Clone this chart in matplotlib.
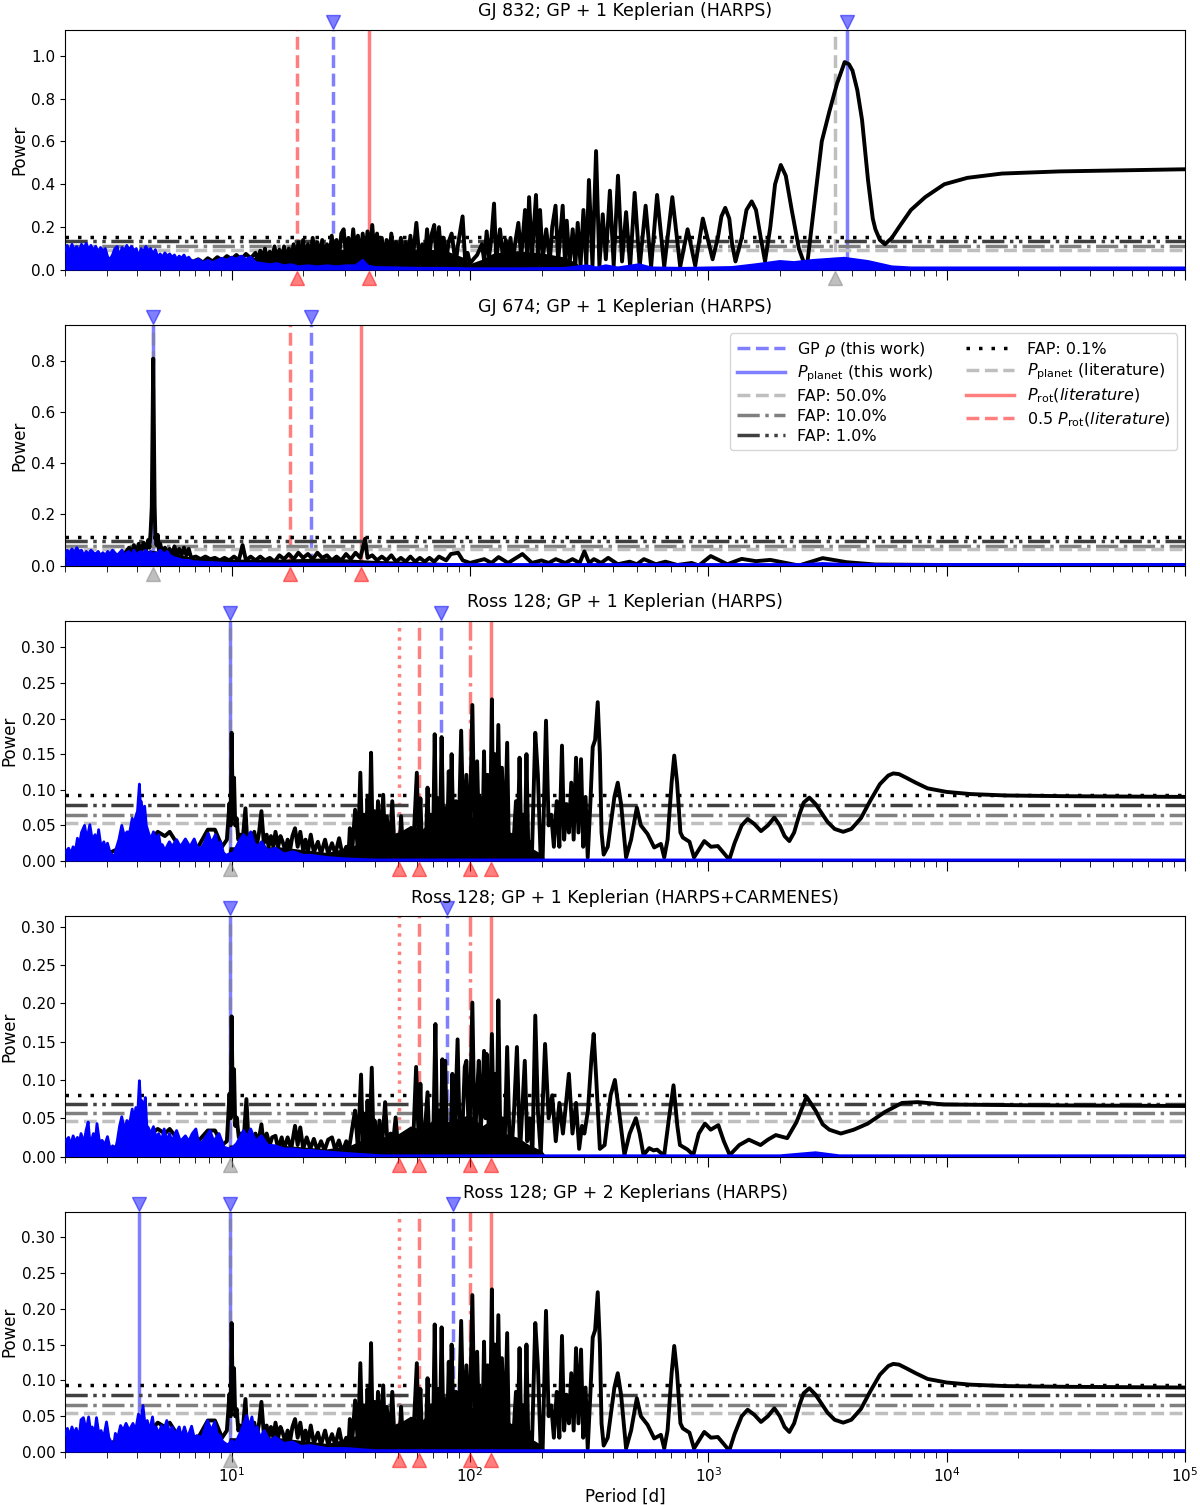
import numpy as np
import matplotlib.pyplot as plt

plt.rcParams['font.size'] = 12
plt.rcParams['xtick.labelsize'] = 11
plt.rcParams['ytick.labelsize'] = 11

titles = ['GJ 832; GP + 1 Keplerian (HARPS)',
          'GJ 674; GP + 1 Keplerian (HARPS)',
          'Ross 128; GP + 1 Keplerian (HARPS)',
          'Ross 128; GP + 1 Keplerian (HARPS+CARMENES)',
          'Ross 128; GP + 2 Keplerians (HARPS)']
ylims = [1.12, 0.94, 0.337, 0.3135, 0.335]

# FAP levels per panel: 0.1%, 1%, 10%, 50%
fap_levels = [[0.153, 0.134, 0.114, 0.094],
              [0.112, 0.095, 0.078, 0.063],
              [0.093, 0.079, 0.065, 0.053],
              [0.080, 0.069, 0.057, 0.046],
              [0.094, 0.080, 0.065, 0.054]]

# marked periods [d]
gp_rho = [26.5, 21.5, 75.5, 80.2, 85.0]
p_planet = [[3820.0], [4.69], [9.87], [9.87], [4.10, 9.87]]
p_planet_lit = [3405.0, 4.69, 9.87, 9.87, 9.87]
p_rot_lit = [37.8, 35.0, 122.0, 122.0, 122.0]
half_prot_lit = [18.8, 17.5, 61.3, 61.3, 61.3]
other_dotted = [None, None, 50.4, 50.4, 50.4]
other_dashdot = [None, None, 100.0, 100.0, 100.0]

# periodograms: (log10 period [d], power)
gj832_gls = [
    (0.301, 0.05), (0.4, 0.06), (0.5, 0.05), (0.6, 0.06), (0.7, 0.05), (0.8, 0.045), (0.84, 0.04),
    (0.86, 0.05), (0.88, 0.035), (0.90, 0.055), (0.92, 0.04), (0.94, 0.06), (0.96, 0.045), (0.98, 0.065),
    (1.0, 0.05), (1.02, 0.07), (1.04, 0.05), (1.06, 0.075), (1.08, 0.055), (1.10, 0.08), (1.11, 0.04),
    (1.12, 0.09), (1.13, 0.05), (1.14, 0.10), (1.15, 0.04), (1.16, 0.085), (1.17, 0.05), (1.18, 0.11),
    (1.19, 0.04), (1.20, 0.095), (1.21, 0.05), (1.22, 0.11), (1.23, 0.04), (1.24, 0.10), (1.25, 0.05),
    (1.26, 0.12), (1.27, 0.04), (1.28, 0.13), (1.29, 0.05), (1.30, 0.14), (1.31, 0.04), (1.32, 0.12),
    (1.33, 0.05), (1.34, 0.15), (1.35, 0.06), (1.36, 0.13), (1.37, 0.05), (1.38, 0.14), (1.39, 0.06),
    (1.40, 0.12), (1.41, 0.05), (1.42, 0.16), (1.43, 0.06), (1.44, 0.14), (1.45, 0.05), (1.46, 0.17),
    (1.47, 0.19), (1.48, 0.06), (1.49, 0.15), (1.50, 0.05), (1.51, 0.19), (1.52, 0.07), (1.53, 0.16),
    (1.54, 0.05), (1.55, 0.17), (1.56, 0.06), (1.57, 0.18), (1.58, 0.07), (1.59, 0.21), (1.60, 0.06),
    (1.61, 0.17), (1.62, 0.05), (1.63, 0.15), (1.64, 0.04), (1.65, 0.14), (1.66, 0.05), (1.67, 0.17),
    (1.68, 0.04), (1.69, 0.13), (1.70, 0.05), (1.71, 0.15), (1.72, 0.03), (1.73, 0.13), (1.74, 0.04),
    (1.75, 0.16), (1.76, 0.05), (1.775, 0.22), (1.79, 0.03), (1.80, 0.12), (1.81, 0.04), (1.82, 0.19),
    (1.83, 0.06), (1.84, 0.17), (1.85, 0.21), (1.86, 0.05), (1.87, 0.20), (1.88, 0.04), (1.89, 0.15),
    (1.90, 0.03), (1.91, 0.13), (1.923, 0.17), (1.94, 0.03), (1.95, 0.12), (1.969, 0.25), (1.98, 0.04),
    (1.99, 0.08), (2.0, 0.03), (2.014, 0.05), (2.03, 0.07), (2.05, 0.12), (2.06, 0.04), (2.07, 0.18),
    (2.08, 0.06), (2.09, 0.15), (2.101, 0.31), (2.11, 0.05), (2.126, 0.19), (2.14, 0.04), (2.15, 0.14),
    (2.16, 0.05), (2.17, 0.15), (2.18, 0.04), (2.19, 0.13), (2.203, 0.22), (2.215, 0.06), (2.231, 0.28),
    (2.24, 0.05), (2.248, 0.34), (2.26, 0.06), (2.277, 0.35), (2.285, 0.07), (2.294, 0.28), (2.305, 0.05),
    (2.32, 0.19), (2.335, 0.04), (2.345, 0.20), (2.359, 0.30), (2.37, 0.04), (2.389, 0.30), (2.398, 0.05),
    (2.406, 0.23), (2.418, 0.03), (2.431, 0.19), (2.442, 0.02), (2.452, 0.22), (2.464, 0.02), (2.476, 0.28),
    (2.488, 0.02), (2.499, 0.42), (2.514, 0.02), (2.529, 0.555), (2.543, 0.02), (2.557, 0.26), (2.57, 0.05),
    (2.587, 0.37), (2.603, 0.02), (2.621, 0.44), (2.638, 0.04), (2.655, 0.27), (2.672, 0.015), (2.691, 0.36),
    (2.712, 0.015), (2.737, 0.30), (2.76, 0.015), (2.785, 0.35), (2.815, 0.015), (2.849, 0.34), (2.882, 0.015),
    (2.913, 0.19), (2.945, 0.02), (2.977, 0.24), (3.018, 0.05), (3.04, 0.15), (3.055, 0.25), (3.071, 0.29),
    (3.088, 0.24), (3.10, 0.12), (3.114, 0.04), (3.14, 0.15), (3.16, 0.28), (3.182, 0.32), (3.20, 0.28),
    (3.22, 0.15), (3.238, 0.04), (3.26, 0.20), (3.28, 0.40), (3.304, 0.49), (3.325, 0.44), (3.35, 0.28),
    (3.38, 0.10), (3.412, 0.0), (3.444, 0.30), (3.476, 0.60), (3.508, 0.74), (3.54, 0.87), (3.572, 0.97),
    (3.59, 0.96), (3.605, 0.93), (3.625, 0.84), (3.645, 0.70), (3.67, 0.42), (3.69, 0.24), (3.701, 0.19),
    (3.72, 0.14), (3.741, 0.12), (3.77, 0.15), (3.80, 0.20), (3.85, 0.28), (3.91, 0.34), (3.99, 0.40),
    (4.087, 0.43), (4.232, 0.45), (4.473, 0.46), (5.0, 0.47)]

# solid (unresolved) part of the dense forest: (log10 period [d], top of black band)
gj832_band = [(0.84, 0.0), (0.85, 0.04), (1.0, 0.05), (1.1, 0.06), (1.2, 0.07), (1.3, 0.08), (1.4, 0.09),
              (1.5, 0.10), (1.6, 0.10), (1.7, 0.09), (1.8, 0.10), (1.9, 0.09), (1.97, 0.06), (2.0, 0.03),
              (2.05, 0.05), (2.1, 0.08), (2.2, 0.09), (2.3, 0.08), (2.4, 0.06), (2.45, 0.03), (2.47, 0.0)]

gj832_resid = [
    (0.301, 0.09), (0.31, 0.115), (0.32, 0.08), (0.33, 0.12), (0.34, 0.09), (0.35, 0.11), (0.36, 0.085),
    (0.37, 0.12), (0.38, 0.10), (0.39, 0.125), (0.40, 0.095), (0.41, 0.115), (0.42, 0.09), (0.43, 0.11),
    (0.44, 0.085), (0.45, 0.105), (0.46, 0.09), (0.47, 0.10), (0.48, 0.06), (0.49, 0.05), (0.50, 0.07),
    (0.51, 0.10), (0.52, 0.11), (0.53, 0.06), (0.54, 0.105), (0.55, 0.09), (0.56, 0.115), (0.57, 0.095),
    (0.58, 0.11), (0.59, 0.09), (0.60, 0.10), (0.61, 0.06), (0.62, 0.10), (0.63, 0.085), (0.64, 0.11),
    (0.65, 0.09), (0.66, 0.10), (0.67, 0.075), (0.68, 0.095), (0.69, 0.06), (0.70, 0.075), (0.71, 0.06),
    (0.72, 0.08), (0.73, 0.065), (0.74, 0.075), (0.75, 0.06), (0.76, 0.07), (0.77, 0.05), (0.78, 0.065),
    (0.79, 0.055), (0.80, 0.07), (0.81, 0.05), (0.82, 0.06), (0.83, 0.045), (0.84, 0.04), (0.86, 0.05),
    (0.88, 0.035), (0.90, 0.045), (0.92, 0.035), (0.94, 0.045), (0.96, 0.055), (0.98, 0.045), (1.00, 0.06),
    (1.02, 0.05), (1.04, 0.065), (1.06, 0.05), (1.08, 0.06), (1.10, 0.035), (1.13, 0.03), (1.16, 0.025),
    (1.19, 0.03), (1.22, 0.02), (1.25, 0.025), (1.28, 0.015), (1.32, 0.02), (1.36, 0.015), (1.40, 0.02),
    (1.44, 0.015), (1.48, 0.02), (1.52, 0.02), (1.55, 0.045), (1.57, 0.02), (1.60, 0.012), (1.70, 0.01),
    (1.80, 0.008), (1.90, 0.008), (2.0, 0.006), (2.2, 0.006), (2.4, 0.008), (2.49, 0.02), (2.53, 0.01),
    (2.57, 0.02), (2.62, 0.01), (2.71, 0.025), (2.76, 0.01), (2.9, 0.008), (3.0, 0.01), (3.1, 0.012),
    (3.2, 0.025), (3.3, 0.04), (3.36, 0.035), (3.44, 0.045), (3.57, 0.055), (3.67, 0.04), (3.77, 0.015),
    (3.85, 0.01), (4.5, 0.01), (5.0, 0.01)]

gj674_gls = [
    (0.301, 0.035), (0.35, 0.04), (0.40, 0.035), (0.45, 0.04), (0.50, 0.035), (0.55, 0.045), (0.57, 0.07),
    (0.58, 0.04), (0.59, 0.08), (0.60, 0.05), (0.61, 0.085), (0.62, 0.05), (0.63, 0.09), (0.64, 0.06),
    (0.65, 0.10), (0.655, 0.07), (0.66, 0.13), (0.665, 0.23), (0.669, 0.60), (0.671, 0.81), (0.673, 0.60),
    (0.677, 0.23), (0.68, 0.12), (0.685, 0.08), (0.69, 0.12), (0.695, 0.06), (0.70, 0.085), (0.71, 0.05),
    (0.72, 0.07), (0.73, 0.05), (0.74, 0.065), (0.75, 0.04), (0.76, 0.075), (0.77, 0.04), (0.78, 0.065),
    (0.79, 0.04), (0.80, 0.07), (0.81, 0.04), (0.82, 0.065), (0.83, 0.03), (0.85, 0.035), (0.87, 0.025),
    (0.89, 0.035), (0.91, 0.025), (0.93, 0.03), (0.95, 0.02), (0.97, 0.03), (0.99, 0.02), (1.01, 0.035),
    (1.03, 0.02), (1.046, 0.08), (1.06, 0.02), (1.08, 0.035), (1.10, 0.02), (1.12, 0.035), (1.14, 0.02),
    (1.16, 0.03), (1.18, 0.015), (1.20, 0.04), (1.22, 0.025), (1.24, 0.045), (1.26, 0.025), (1.28, 0.05),
    (1.30, 0.03), (1.32, 0.045), (1.34, 0.025), (1.36, 0.05), (1.38, 0.03), (1.40, 0.04), (1.42, 0.02),
    (1.44, 0.035), (1.46, 0.02), (1.48, 0.045), (1.50, 0.025), (1.52, 0.05), (1.54, 0.03), (1.56, 0.105),
    (1.57, 0.03), (1.59, 0.04), (1.61, 0.02), (1.63, 0.035), (1.65, 0.02), (1.67, 0.04), (1.69, 0.015),
    (1.71, 0.03), (1.73, 0.015), (1.75, 0.035), (1.77, 0.015), (1.79, 0.03), (1.81, 0.015), (1.83, 0.03),
    (1.85, 0.015), (1.87, 0.035), (1.90, 0.02), (1.92, 0.045), (1.95, 0.05), (1.97, 0.02), (2.0, 0.01),
    (2.06, 0.025), (2.09, 0.01), (2.12, 0.033), (2.16, 0.01), (2.22, 0.045), (2.26, 0.01), (2.30, 0.02),
    (2.33, 0.01), (2.36, 0.025), (2.40, 0.01), (2.43, 0.025), (2.46, 0.01), (2.48, 0.055), (2.50, 0.01),
    (2.52, 0.025), (2.55, 0.01), (2.58, 0.03), (2.62, 0.005), (2.67, 0.015), (2.70, 0.005), (2.73, 0.025),
    (2.78, 0.005), (2.82, 0.015), (2.87, 0.002), (2.93, 0.01), (2.96, 0.0), (3.01, 0.037), (3.08, 0.005),
    (3.14, 0.026), (3.20, 0.017), (3.26, 0.022), (3.38, 0.0), (3.48, 0.029), (3.58, 0.013), (3.70, 0.004),
    (4.0, 0.002), (5.0, 0.002)]

gj674_band = [(0.55, 0.0), (0.56, 0.05), (0.66, 0.06), (0.75, 0.05), (0.84, 0.03), (1.0, 0.025),
              (1.2, 0.025), (1.4, 0.03), (1.6, 0.02), (1.8, 0.015), (1.95, 0.01), (2.0, 0.0)]

gj674_resid = [
    (0.301, 0.04), (0.31, 0.06), (0.32, 0.05), (0.33, 0.065), (0.34, 0.05), (0.35, 0.07), (0.36, 0.055),
    (0.37, 0.06), (0.38, 0.04), (0.39, 0.055), (0.40, 0.045), (0.41, 0.06), (0.42, 0.05), (0.43, 0.045),
    (0.44, 0.055), (0.45, 0.04), (0.46, 0.05), (0.47, 0.04), (0.48, 0.055), (0.49, 0.045), (0.50, 0.06),
    (0.51, 0.05), (0.52, 0.04), (0.53, 0.05), (0.54, 0.06), (0.55, 0.04), (0.56, 0.05), (0.57, 0.055),
    (0.58, 0.035), (0.59, 0.06), (0.60, 0.04), (0.61, 0.05), (0.62, 0.055), (0.63, 0.045), (0.64, 0.06),
    (0.65, 0.04), (0.66, 0.055), (0.67, 0.04), (0.68, 0.05), (0.69, 0.045), (0.70, 0.06), (0.71, 0.05),
    (0.72, 0.045), (0.73, 0.055), (0.74, 0.04), (0.76, 0.03), (0.78, 0.025), (0.80, 0.02), (0.82, 0.02),
    (0.84, 0.015), (0.9, 0.012), (1.0, 0.008), (1.2, 0.006), (1.5, 0.005), (2.0, 0.004), (3.4, 0.004),
    (3.48, 0.008), (3.58, 0.004), (5.0, 0.004)]

ross_harps_gls = [
    (0.301, 0.01), (0.36, 0.01), (0.44, 0.01), (0.48, 0.01), (0.51, 0.015), (0.54, 0.015), (0.58, 0.03),
    (0.62, 0.03), (0.66, 0.03), (0.69, 0.041), (0.72, 0.035), (0.74, 0.041), (0.78, 0.02), (0.82, 0.02),
    (0.86, 0.02), (0.90, 0.044), (0.93, 0.044), (0.96, 0.02), (0.98, 0.03),
    (0.991, 0.081), (0.996, 0.05), (1.0, 0.18), (1.005, 0.06), (1.010, 0.117), (1.015, 0.05), (1.021, 0.06),
    (1.028, 0.03), (1.036, 0.037), (1.045, 0.025), (1.058, 0.074), (1.065, 0.03), (1.073, 0.037), (1.08, 0.02),
    (1.088, 0.035), (1.095, 0.041), (1.105, 0.02), (1.115, 0.04), (1.125, 0.07), (1.135, 0.025), (1.147, 0.037),
    (1.155, 0.02), (1.165, 0.035), (1.175, 0.02), (1.184, 0.041), (1.195, 0.02), (1.205, 0.035), (1.214, 0.027),
    (1.225, 0.015), (1.235, 0.03), (1.245, 0.015), (1.255, 0.035), (1.266, 0.046), (1.277, 0.02), (1.288, 0.041),
    (1.30, 0.015), (1.31, 0.03), (1.32, 0.012), (1.332, 0.037), (1.345, 0.012), (1.362, 0.027), (1.375, 0.01),
    (1.392, 0.03), (1.405, 0.01), (1.421, 0.025), (1.435, 0.01), (1.451, 0.032), (1.465, 0.008), (1.481, 0.02),
    (1.49, 0.006), (1.496, 0.046), (1.505, 0.01), (1.518, 0.072), (1.53, 0.01), (1.540, 0.124), (1.548, 0.02),
    (1.555, 0.065), (1.562, 0.01), (1.570, 0.088), (1.578, 0.02), (1.585, 0.152), (1.592, 0.02), (1.599, 0.07),
    (1.607, 0.01), (1.614, 0.084), (1.625, 0.02), (1.636, 0.093), (1.644, 0.015), (1.651, 0.063), (1.662, 0.01),
    (1.674, 0.084), (1.685, 0.005), (1.696, 0.037), (1.703, 0.01), (1.711, 0.063), (1.72, 0.005), (1.726, 0.013),
    (1.737, 0.03), (1.748, 0.041), (1.76, 0.005), (1.777, 0.124), (1.785, 0.02), (1.792, 0.088), (1.80, 0.005),
    (1.807, 0.037), (1.815, 0.02), (1.822, 0.103), (1.83, 0.01), (1.837, 0.065), (1.845, 0.02), (1.852, 0.178),
    (1.859, 0.03), (1.866, 0.088), (1.873, 0.01), (1.881, 0.174), (1.889, 0.02), (1.896, 0.074), (1.903, 0.01),
    (1.911, 0.126), (1.917, 0.03), (1.923, 0.150), (1.932, 0.01), (1.941, 0.084), (1.952, 0.02), (1.963, 0.183),
    (1.974, 0.02), (1.985, 0.121), (1.997, 0.01), (2.010, 0.219), (2.02, 0.01), (2.030, 0.140), (2.038, 0.03),
    (2.045, 0.088), (2.052, 0.02), (2.059, 0.154), (2.066, 0.01), (2.074, 0.121), (2.083, 0.005), (2.092, 0.227),
    (2.098, 0.02), (2.104, 0.150), (2.11, 0.01), (2.119, 0.191), (2.127, 0.02), (2.134, 0.131), (2.145, 0.01),
    (2.156, 0.166), (2.163, 0.02), (2.171, 0.037), (2.18, 0.01), (2.193, 0.084), (2.20, 0.02), (2.208, 0.145),
    (2.215, 0.03), (2.223, 0.065), (2.23, 0.01), (2.237, 0.150), (2.245, 0.01), (2.252, 0.027), (2.26, 0.01),
    (2.274, 0.180), (2.285, 0.12), (2.297, 0.0), (2.305, 0.005), (2.319, 0.197), (2.33, 0.05), (2.341, 0.065),
    (2.352, 0.02), (2.364, 0.084), (2.375, 0.02), (2.386, 0.162), (2.395, 0.03), (2.405, 0.08), (2.415, 0.04),
    (2.425, 0.11), (2.435, 0.03), (2.445, 0.145), (2.455, 0.04), (2.466, 0.143), (2.475, 0.02), (2.485, 0.09),
    (2.494, 0.005), (2.505, 0.08), (2.515, 0.16), (2.525, 0.17), (2.536, 0.223), (2.545, 0.15), (2.552, 0.04),
    (2.561, 0.009), (2.578, 0.02), (2.606, 0.09), (2.62, 0.11), (2.634, 0.08), (2.655, 0.005), (2.676, 0.03),
    (2.70, 0.075), (2.717, 0.05), (2.745, 0.038), (2.773, 0.019), (2.801, 0.024), (2.815, 0.005), (2.829, 0.03),
    (2.846, 0.11), (2.857, 0.148), (2.869, 0.11), (2.883, 0.04), (2.893, 0.033), (2.921, 0.027), (2.94, 0.005),
    (2.983, 0.028), (3.011, 0.02), (3.04, 0.021), (3.088, 0.002), (3.11, 0.025), (3.14, 0.05), (3.165, 0.059),
    (3.193, 0.052), (3.221, 0.042), (3.25, 0.05), (3.277, 0.061), (3.30, 0.05), (3.32, 0.035), (3.34, 0.028),
    (3.36, 0.04), (3.382, 0.065), (3.40, 0.082), (3.424, 0.089), (3.45, 0.08), (3.47, 0.07), (3.50, 0.055),
    (3.53, 0.045), (3.566, 0.041), (3.60, 0.045), (3.64, 0.06), (3.68, 0.085), (3.72, 0.108), (3.755, 0.12),
    (3.776, 0.123), (3.80, 0.122), (3.83, 0.117), (3.87, 0.11), (3.92, 0.102), (4.0, 0.097), (4.1, 0.094),
    (4.25, 0.092), (4.5, 0.091), (5.0, 0.09)]

ross_harps_band = [(0.98, 0.0), (0.99, 0.02), (1.2, 0.02), (1.4, 0.012), (1.5, 0.02), (1.6, 0.035),
                   (1.65, 0.03), (1.7, 0.04), (1.75, 0.05), (1.8, 0.045), (1.85, 0.06), (1.9, 0.055),
                   (2.0, 0.065), (2.05, 0.05), (2.1, 0.06), (2.15, 0.04), (2.2, 0.035), (2.25, 0.02),
                   (2.3, 0.01), (2.32, 0.0)]

ross_harps_resid = [
    (0.301, 0.012), (0.316, 0.018), (0.325, 0.01), (0.335, 0.02), (0.345, 0.015), (0.353, 0.032), (0.36, 0.02),
    (0.37, 0.04), (0.383, 0.05), (0.393, 0.03), (0.405, 0.051), (0.415, 0.03), (0.427, 0.037), (0.435, 0.025),
    (0.442, 0.044), (0.452, 0.02), (0.464, 0.027), (0.472, 0.015), (0.479, 0.025), (0.49, 0.012), (0.501, 0.008),
    (0.508, 0.005), (0.516, 0.018), (0.527, 0.03), (0.539, 0.05), (0.55, 0.035), (0.561, 0.041), (0.572, 0.04),
    (0.583, 0.06), (0.59, 0.05), (0.598, 0.063), (0.605, 0.07), (0.613, 0.108), (0.617, 0.08), (0.620, 0.084),
    (0.627, 0.07), (0.635, 0.077), (0.642, 0.05), (0.65, 0.041), (0.66, 0.03), (0.672, 0.041), (0.683, 0.03),
    (0.694, 0.037), (0.702, 0.02), (0.709, 0.023), (0.72, 0.015), (0.739, 0.027), (0.75, 0.02), (0.769, 0.03),
    (0.785, 0.02), (0.806, 0.031), (0.825, 0.02), (0.843, 0.031), (0.855, 0.02), (0.872, 0.018), (0.885, 0.025),
    (0.902, 0.039), (0.915, 0.025), (0.932, 0.037), (0.945, 0.02), (0.954, 0.027), (0.965, 0.012), (0.976, 0.008),
    (0.99, 0.01), (1.006, 0.011), (1.02, 0.02), (1.035, 0.03), (1.05, 0.037), (1.065, 0.03), (1.08, 0.041),
    (1.095, 0.025), (1.11, 0.02), (1.125, 0.027), (1.15, 0.015), (1.184, 0.018), (1.22, 0.01), (1.258, 0.013),
    (1.30, 0.008), (1.332, 0.008), (1.40, 0.005), (1.481, 0.003), (1.6, 0.0015), (5.0, 0.0015)]

ross_carm_gls = [
    (0.301, 0.01), (0.36, 0.01), (0.44, 0.01), (0.48, 0.01), (0.51, 0.012), (0.54, 0.015), (0.58, 0.03),
    (0.62, 0.03), (0.66, 0.03), (0.69, 0.036), (0.72, 0.03), (0.74, 0.036), (0.78, 0.02), (0.82, 0.02),
    (0.86, 0.02), (0.90, 0.034), (0.93, 0.034), (0.96, 0.015), (0.98, 0.02),
    (0.991, 0.082), (0.996, 0.05), (1.0, 0.183), (1.005, 0.06), (1.01, 0.114), (1.015, 0.04), (1.021, 0.051),
    (1.03, 0.025), (1.04, 0.03), (1.05, 0.02), (1.062, 0.075), (1.07, 0.025), (1.08, 0.03), (1.09, 0.015),
    (1.10, 0.03), (1.11, 0.015), (1.125, 0.042), (1.135, 0.015), (1.147, 0.03), (1.16, 0.015), (1.17, 0.025),
    (1.184, 0.027), (1.195, 0.01), (1.21, 0.025), (1.22, 0.01), (1.235, 0.025), (1.25, 0.01), (1.266, 0.04),
    (1.277, 0.015), (1.288, 0.038), (1.30, 0.01), (1.315, 0.025), (1.33, 0.01), (1.345, 0.023), (1.36, 0.008),
    (1.375, 0.02), (1.39, 0.008), (1.405, 0.022), (1.421, 0.025), (1.435, 0.008), (1.45, 0.021), (1.465, 0.006),
    (1.481, 0.02), (1.49, 0.005), (1.51, 0.045), (1.518, 0.06), (1.53, 0.01), (1.543, 0.107), (1.55, 0.02),
    (1.555, 0.056), (1.562, 0.01), (1.570, 0.073), (1.578, 0.02), (1.588, 0.116), (1.595, 0.02), (1.60, 0.047),
    (1.61, 0.01), (1.62, 0.047), (1.63, 0.01), (1.644, 0.071), (1.655, 0.01), (1.667, 0.03), (1.675, 0.01),
    (1.688, 0.051), (1.70, 0.005), (1.711, 0.012), (1.726, 0.003), (1.748, 0.034), (1.76, 0.005), (1.774, 0.117),
    (1.785, 0.02), (1.792, 0.095), (1.80, 0.005), (1.81, 0.03), (1.822, 0.084), (1.83, 0.01), (1.837, 0.03),
    (1.845, 0.01), (1.855, 0.173), (1.862, 0.03), (1.87, 0.06), (1.877, 0.01), (1.884, 0.127), (1.89, 0.03),
    (1.896, 0.125), (1.903, 0.02), (1.911, 0.03), (1.918, 0.01), (1.926, 0.108), (1.935, 0.02), (1.948, 0.153),
    (1.958, 0.01), (1.97, 0.05), (1.978, 0.117), (1.985, 0.125), (1.997, 0.01), (2.010, 0.201), (2.02, 0.01),
    (2.028, 0.07), (2.037, 0.125), (2.045, 0.03), (2.059, 0.138), (2.065, 0.05), (2.07, 0.134), (2.08, 0.02),
    (2.092, 0.16), (2.10, 0.03), (2.105, 0.108), (2.112, 0.02), (2.119, 0.204), (2.127, 0.03), (2.134, 0.05),
    (2.145, 0.01), (2.156, 0.143), (2.165, 0.03), (2.175, 0.01), (2.185, 0.06), (2.197, 0.143), (2.21, 0.005),
    (2.23, 0.125), (2.24, 0.02), (2.25, 0.05), (2.262, 0.005), (2.274, 0.184), (2.285, 0.06), (2.297, 0.003),
    (2.315, 0.147), (2.33, 0.05), (2.345, 0.08), (2.36, 0.02), (2.375, 0.07), (2.39, 0.03), (2.40, 0.06),
    (2.415, 0.108), (2.43, 0.03), (2.445, 0.07), (2.458, 0.01), (2.47, 0.04), (2.48, 0.03), (2.495, 0.06),
    (2.51, 0.13), (2.519, 0.16), (2.53, 0.10), (2.545, 0.01), (2.565, 0.015), (2.59, 0.08), (2.608, 0.10),
    (2.625, 0.06), (2.648, 0.002), (2.67, 0.03), (2.696, 0.05), (2.712, 0.03), (2.728, 0.002), (2.752, 0.011),
    (2.77, 0.008), (2.785, 0.009), (2.80, 0.005), (2.815, 0.002), (2.835, 0.05), (2.854, 0.093), (2.87, 0.04),
    (2.881, 0.015), (2.913, 0.009), (2.937, 0.002), (2.96, 0.03), (2.986, 0.043), (3.01, 0.035), (3.042, 0.041),
    (3.065, 0.02), (3.09, 0.002), (3.13, 0.015), (3.17, 0.022), (3.219, 0.015), (3.25, 0.022), (3.283, 0.028),
    (3.331, 0.024), (3.37, 0.045), (3.412, 0.078), (3.45, 0.06), (3.48, 0.042), (3.508, 0.035), (3.556, 0.03),
    (3.61, 0.035), (3.669, 0.043), (3.74, 0.058), (3.813, 0.07), (3.878, 0.071), (3.99, 0.068), (4.31, 0.067),
    (5.0, 0.066)]

ross_carm_band = [(0.98, 0.0), (0.99, 0.015), (1.2, 0.015), (1.4, 0.01), (1.5, 0.015), (1.6, 0.03),
                  (1.65, 0.025), (1.7, 0.03), (1.75, 0.04), (1.8, 0.035), (1.85, 0.05), (1.9, 0.045),
                  (2.0, 0.055), (2.05, 0.04), (2.1, 0.05), (2.15, 0.03), (2.2, 0.025), (2.25, 0.015),
                  (2.3, 0.008), (2.32, 0.0)]

ross_carm_resid = [
    (0.301, 0.02), (0.316, 0.025), (0.325, 0.015), (0.335, 0.027), (0.345, 0.018), (0.353, 0.025), (0.36, 0.015),
    (0.368, 0.03), (0.38, 0.018), (0.39, 0.035), (0.398, 0.045), (0.405, 0.02), (0.412, 0.021), (0.42, 0.03),
    (0.428, 0.02), (0.435, 0.043), (0.445, 0.02), (0.457, 0.021), (0.468, 0.015), (0.479, 0.026), (0.49, 0.01),
    (0.501, 0.014), (0.51, 0.006), (0.52, 0.02), (0.53, 0.04), (0.539, 0.052), (0.55, 0.035), (0.561, 0.047),
    (0.57, 0.04), (0.583, 0.062), (0.59, 0.045), (0.598, 0.064), (0.605, 0.05), (0.613, 0.099), (0.618, 0.07),
    (0.623, 0.073), (0.63, 0.06), (0.638, 0.077), (0.644, 0.04), (0.65, 0.038), (0.66, 0.03), (0.672, 0.039),
    (0.683, 0.025), (0.694, 0.03), (0.705, 0.02), (0.717, 0.036), (0.728, 0.02), (0.739, 0.03), (0.75, 0.02),
    (0.769, 0.034), (0.785, 0.02), (0.806, 0.027), (0.82, 0.02), (0.835, 0.03), (0.85, 0.036), (0.86, 0.02),
    (0.872, 0.017), (0.89, 0.025), (0.909, 0.034), (0.925, 0.02), (0.947, 0.03), (0.969, 0.012), (0.991, 0.01),
    (1.005, 0.012), (1.021, 0.017), (1.035, 0.025), (1.050, 0.034), (1.065, 0.025), (1.080, 0.036), (1.10, 0.02),
    (1.125, 0.027), (1.15, 0.015), (1.184, 0.014), (1.22, 0.01), (1.258, 0.01), (1.30, 0.008), (1.332, 0.008),
    (1.40, 0.006), (1.481, 0.004), (1.629, 0.001), (2.0, 0.001), (3.3, 0.001), (3.45, 0.005), (3.55, 0.001),
    (5.0, 0.001)]

ross_2k_resid = [
    (0.301, 0.025), (0.311, 0.033), (0.32, 0.022), (0.33, 0.035), (0.34, 0.025), (0.348, 0.033), (0.36, 0.02),
    (0.368, 0.045), (0.378, 0.048), (0.39, 0.03), (0.400, 0.049), (0.408, 0.03), (0.415, 0.035), (0.425, 0.025),
    (0.433, 0.048), (0.443, 0.025), (0.452, 0.030), (0.463, 0.02), (0.475, 0.042), (0.485, 0.02), (0.497, 0.012),
    (0.505, 0.008), (0.512, 0.026), (0.522, 0.02), (0.534, 0.037), (0.545, 0.03), (0.557, 0.040), (0.57, 0.03),
    (0.586, 0.040), (0.597, 0.03), (0.609, 0.053), (0.618, 0.04), (0.628, 0.065), (0.636, 0.04), (0.646, 0.044),
    (0.656, 0.03), (0.668, 0.049), (0.675, 0.03), (0.683, 0.035), (0.695, 0.025), (0.705, 0.037), (0.715, 0.03),
    (0.728, 0.044), (0.74, 0.025), (0.750, 0.035), (0.765, 0.025), (0.780, 0.035), (0.79, 0.02), (0.802, 0.035),
    (0.815, 0.02), (0.832, 0.036), (0.843, 0.02), (0.854, 0.023), (0.875, 0.02), (0.899, 0.044), (0.915, 0.03),
    (0.929, 0.042), (0.94, 0.025), (0.951, 0.023), (0.962, 0.015), (0.973, 0.012), (0.985, 0.01), (1.0, 0.016),
    (1.012, 0.012), (1.025, 0.019), (1.04, 0.03), (1.063, 0.051), (1.075, 0.035), (1.085, 0.049), (1.095, 0.03),
    (1.107, 0.035), (1.12, 0.02), (1.137, 0.030), (1.16, 0.015), (1.182, 0.021), (1.22, 0.012), (1.256, 0.014),
    (1.29, 0.008), (1.330, 0.009), (1.40, 0.005), (1.479, 0.005), (1.6, 0.002), (5.0, 0.002)]

gls_curves = [gj832_gls, gj674_gls, ross_harps_gls, ross_carm_gls, ross_harps_gls]
band_curves = [gj832_band, gj674_band, ross_harps_band, ross_carm_band, ross_harps_band]
resid_curves = [gj832_resid, gj674_resid, ross_harps_resid, ross_carm_resid, ross_2k_resid]

fap_styles = [('FAP: 0.1%', 'black', (0, (1, 2.6))),
              ('FAP: 1.0%', '#404040', (0, (6.4, 1.6, 1, 1.6, 1, 1.6))),
              ('FAP: 10.0%', '#808080', '-.'),
              ('FAP: 50.0%', '#bfbfbf', '--')]

fig, axes = plt.subplots(5, 1, figsize=(12, 15.05), sharex=True)
fig.subplots_adjust(left=0.0542, right=0.9875, top=0.9801, bottom=0.0352, hspace=0.231)

for i, ax in enumerate(axes):
    xb = ax.get_xaxis_transform()
    lw = 2.5
    h = {}
    h['gp'] = ax.axvline(gp_rho[i], color='blue', alpha=0.5, ls='--', lw=lw, zorder=1)
    ax.plot([gp_rho[i]], [1.035], 'v', color='blue', alpha=0.5, ms=10, transform=xb, clip_on=False)
    for p in p_planet[i]:
        h['pl'] = ax.axvline(p, color='blue', alpha=0.5, ls='-', lw=lw, zorder=1)
        ax.plot([p], [1.035], 'v', color='blue', alpha=0.5, ms=10, transform=xb, clip_on=False)
    h['pl_lit'] = ax.axvline(p_planet_lit[i], color='gray', alpha=0.5, ls='--', lw=lw, zorder=1)
    ax.plot([p_planet_lit[i]], [-0.035], '^', color='gray', alpha=0.5, ms=10, transform=xb, clip_on=False)
    h['prot'] = ax.axvline(p_rot_lit[i], color='red', alpha=0.5, ls='-', lw=lw, zorder=1)
    h['half'] = ax.axvline(half_prot_lit[i], color='red', alpha=0.5, ls='--', lw=lw, zorder=1)
    red_marks = [p_rot_lit[i], half_prot_lit[i]]
    if other_dotted[i]:
        ax.axvline(other_dotted[i], color='red', alpha=0.5, ls=':', lw=lw, zorder=1)
        ax.axvline(other_dashdot[i], color='red', alpha=0.5, ls='-.', lw=lw, zorder=1)
        red_marks += [other_dotted[i], other_dashdot[i]]
    for p in red_marks:
        ax.plot([p], [-0.035], '^', color='red', alpha=0.5, ms=10, transform=xb, clip_on=False)

    for (lab, col, ls), lev in zip(fap_styles, fap_levels[i]):
        h[lab] = ax.axhline(lev, color=col, ls=ls, lw=lw, zorder=2)

    b = np.array(band_curves[i])
    ax.fill_between(10 ** b[:, 0], 0, b[:, 1], color='black', lw=0, zorder=3)
    g = np.array(gls_curves[i])
    ax.plot(10 ** g[:, 0], g[:, 1], color='black', lw=2.8, zorder=3)
    r = np.array(resid_curves[i])
    ax.fill_between(10 ** r[:, 0], 0, r[:, 1], color='blue', lw=0, zorder=4)
    ax.plot(10 ** r[:, 0], r[:, 1], color='blue', lw=2, zorder=4)

    ax.set_xscale('log')
    ax.set_xlim(2, 1e5)
    ax.set_ylim(0, ylims[i])
    ax.set_ylabel('Power', labelpad=2)
    ax.set_title(titles[i], fontsize=12.5, pad=10)
    ax.tick_params(axis='x', which='major', length=7, labelbottom=(i == 4))
    ax.tick_params(axis='x', which='minor', length=4)
    ax.tick_params(axis='y', length=3.5)

    if i == 1:
        handles = [h['gp'], h['pl'], h['FAP: 50.0%'], h['FAP: 10.0%'], h['FAP: 1.0%'],
                   h['FAP: 0.1%'], h['pl_lit'], h['prot'], h['half']]
        labels = [r'GP $\rho$ (this work)', r'$P_{\rm planet}$ (this work)', 'FAP: 50.0%',
                  'FAP: 10.0%', 'FAP: 1.0%', 'FAP: 0.1%', r'$P_{\rm planet}$ (literature)',
                  r'$P_{\rm rot}(literature)$', r'0.5 $P_{\rm rot}(literature)$']
        ax.legend(handles, labels, loc='upper right', ncol=2, handlelength=3,
                  fontsize=11.5, labelspacing=0.3)

axes[0].set_yticks([0.0, 0.2, 0.4, 0.6, 0.8, 1.0])
axes[1].set_yticks([0.0, 0.2, 0.4, 0.6, 0.8])
for ax in axes[2:]:
    ax.set_yticks([0.0, 0.05, 0.10, 0.15, 0.20, 0.25, 0.30])
axes[-1].set_xlabel('Period [d]', labelpad=2)

plt.savefig('out.png', dpi=100)
